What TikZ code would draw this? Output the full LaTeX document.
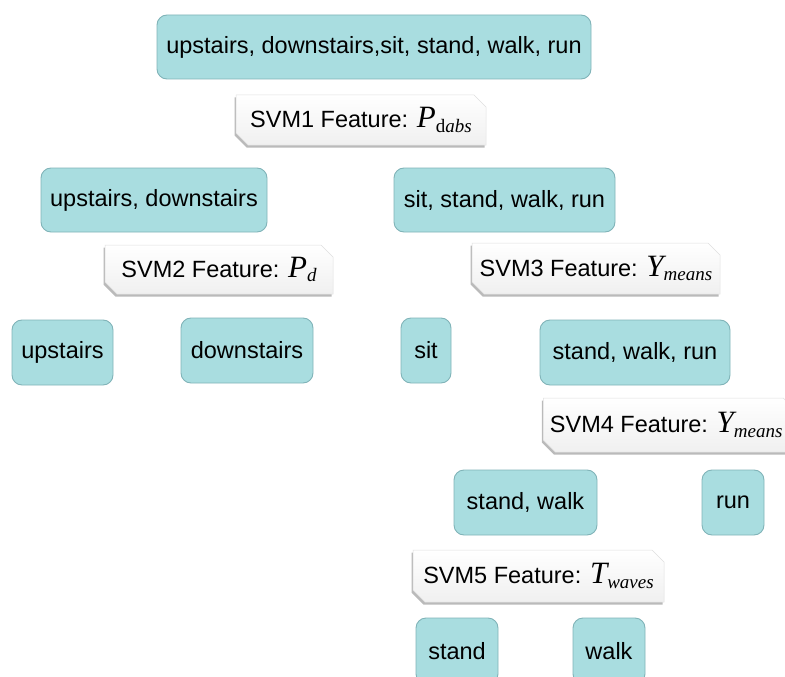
\documentclass[tikz,border=0pt]{standalone}
\usepackage{fontspec}
\setmainfont{Liberation Sans}
\newfontfamily\tms{Liberation Serif}
\usetikzlibrary{shapes.misc,shadows}
\definecolor{boxfill}{HTML}{A9DDE0}
\definecolor{boxline}{HTML}{80B3B8}
\tikzset{
  cls/.style={draw=boxline, line width=0.9pt, fill=boxfill, rounded corners=10pt,
    font=\fontsize{23.5}{27}\selectfont, inner sep=0pt, align=center},
  svmlabel/.style={chamfered rectangle, chamfered rectangle corners={north east,south west},
    chamfered rectangle xsep=6pt, chamfered rectangle ysep=6pt,
    draw=gray!25, line width=0.5pt, top color=white, bottom color=gray!12,
    drop shadow={shadow xshift=-1.5pt, shadow yshift=-2.5pt, opacity=0.45, fill=gray!80!black},
    font=\fontsize{23.5}{27}\selectfont, inner sep=0pt, align=center}
}
\newcommand{\bigP}{{\tms\itshape\fontsize{31}{31}\selectfont P}}
\newcommand{\bigY}{{\tms\itshape\fontsize{31}{31}\selectfont Y}}
\newcommand{\bigT}{{\tms\itshape\fontsize{31}{31}\selectfont T}}
\newcommand{\subtx}[1]{\raisebox{-0.35ex}{\tms\fontsize{19}{19}\selectfont #1}}
\begin{document}
\begin{tikzpicture}[x=1pt,y=-1pt]
\useasboundingbox (0,0) rectangle (785,677);
\clip (0,0) rectangle (785,677);
% class boxes
\node[cls, minimum width=434pt, minimum height=64pt] (all) at (374,47) {upstairs, downstairs,sit, stand, walk, run};
\node[cls, minimum width=226pt, minimum height=64pt] (ud) at (154,200) {upstairs, downstairs};
\node[cls, minimum width=221pt, minimum height=64pt] (sswr) at (504.5,200) {sit, stand, walk, run};
\node[cls, minimum width=101pt, minimum height=65pt] (up) at (62.5,352.5) {upstairs};
\node[cls, minimum width=132pt, minimum height=65pt] (down) at (247,350.5) {downstairs};
\node[cls, minimum width=50pt, minimum height=65pt] (sit) at (426,350.5) {sit};
\node[cls, minimum width=190pt, minimum height=65pt] (swr) at (635,352.5) {stand, walk, run};
\node[cls, minimum width=143pt, minimum height=65pt] (sw) at (525.5,502.5) {stand, walk};
\node[cls, minimum width=62pt, minimum height=65pt] (run) at (733,502.5) {run};
\node[cls, minimum width=82pt, minimum height=66pt] (stand) at (457,651) {stand};
\node[cls, minimum width=72pt, minimum height=66pt] (walk) at (609,651) {walk};
% SVM labels
\node[svmlabel, minimum width=250pt, minimum height=50pt] (svm1) at (361,120)
  {SVM1 Feature: \bigP\subtx{d\itshape abs}};
\node[svmlabel, minimum width=228pt, minimum height=49pt] (svm2) at (219,269.5)
  {SVM2 Feature: \bigP\subtx{\itshape d}};
\node[svmlabel, minimum width=248pt, minimum height=51pt] (svm3) at (596,268.5)
  {SVM3 Feature: \bigY\subtx{\itshape means}};
\node[svmlabel, minimum width=252pt, minimum height=54pt, anchor=west] (svm4) at (543,425)
  {\hspace*{-6pt}SVM4 Feature: \bigY\subtx{\itshape means}};
\node[svmlabel, minimum width=251pt, minimum height=52pt] (svm5) at (538.5,576)
  {SVM5 Feature: \bigT\subtx{\itshape waves}};
\end{tikzpicture}
\end{document}
